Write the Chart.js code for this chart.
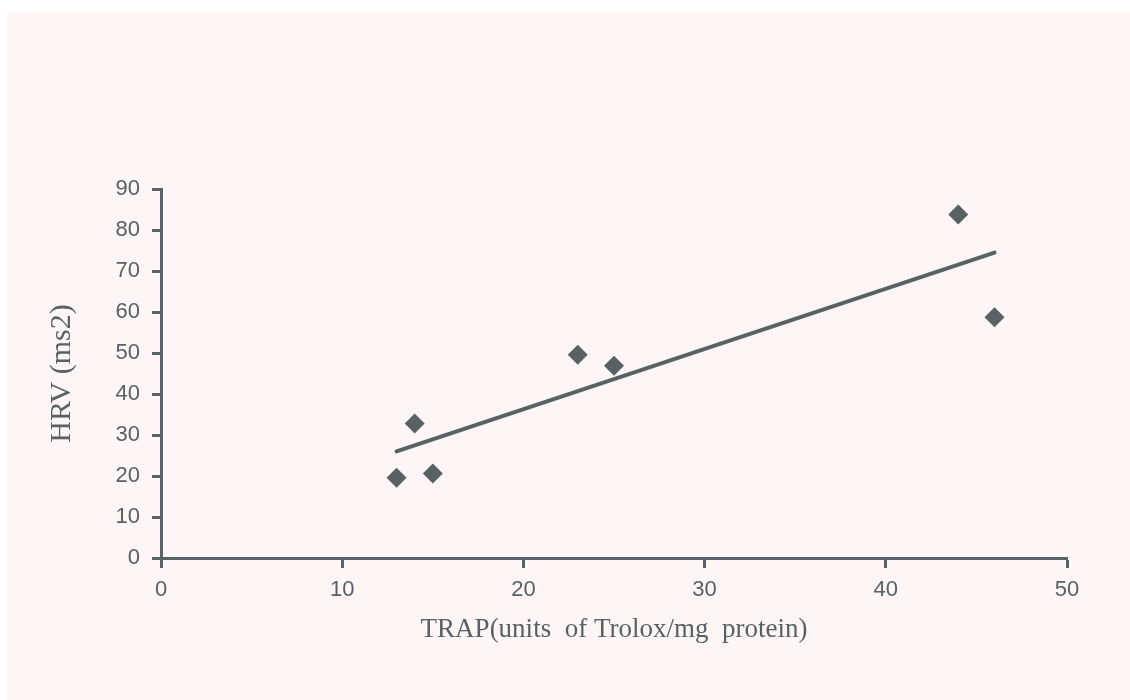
<!DOCTYPE html>
<html>
<head>
<meta charset="utf-8">
<script src="https://cdn.jsdelivr.net/npm/chart.js@4.4.0/dist/chart.umd.min.js"></script>
<style>
  html, body { margin: 0; padding: 0; background: #ffffff; }
  #panel { position: absolute; left: 7px; top: 12px; width: 1123px; height: 688px; background: #fdf5f6; }
  #wrap { position: absolute; left: 0; top: 0; width: 1130px; height: 700px; }
</style>
</head>
<body>
<div id="panel"></div>
<div id="wrap"><canvas id="chart" width="1130" height="700"></canvas></div>
<script>
// points
const trapValues = [13, 14, 15, 23, 25, 44, 46];
const hrvValues = [19.6, 32.8, 20.6, 49.6, 46.9, 83.8, 58.7];
// trend line ends
const trendX = [13, 46];
const trendY = [26, 74.5];

const xTicks = [0, 10, 20, 30, 40, 50];
const yTicks = [0, 10, 20, 30, 40, 50, 60, 70, 80, 90];

const ink = '#586163';

function pairs(xs, ys) {
    return xs.map((x, i) => ({ x: x, y: ys[i] }));
}

function createChart(id, config) {
    try {
        return new Chart(id, config);
    } catch (e) {
        console.log(e);
    }
}

const tickFont = { family: '"Liberation Sans", Arial, sans-serif', size: 22 };
const serif = '"Liberation Serif", "Times New Roman", serif';

let chart = createChart('chart', {
    type: 'scatter',
    data: {
        datasets: [
            {
                label: 'HRV',
                data: pairs(trapValues, hrvValues),
                pointStyle: 'rectRot',
                pointRadius: 10,
                pointHoverRadius: 10,
                backgroundColor: ink,
                borderColor: ink,
                borderWidth: 0
            },
            {
                label: 'trend',
                type: 'line',
                data: pairs(trendX, trendY),
                borderColor: ink,
                borderWidth: 4,
                borderCapStyle: 'round',
                pointRadius: 0,
                fill: false
            }
        ]
    },
    options: {
        responsive: false,
        animation: false,
        layout: { padding: { left: 41, right: 63, top: 189, bottom: 52 } },
        plugins: { legend: { display: false }, tooltip: { enabled: false } },
        scales: {
            x: {
                type: 'linear',
                min: 0, max: 50,
                afterBuildTicks: (scale) => { scale.ticks = xTicks.map(v => ({ value: v })); },
                afterFit: (scale) => { scale.height = 90; },
                border: { display: true, color: ink, width: 3 },
                grid: { drawOnChartArea: false, color: ink, tickColor: ink, tickWidth: 3, tickLength: 10 },
                ticks: { color: ink, font: tickFont, padding: 9 },
                title: {
                    display: true,
                    text: 'TRAP(units  of Trolox/mg  protein)',
                    color: ink,
                    font: { family: serif, size: 27 },
                    padding: { top: 0, bottom: 2 }
                }
            },
            y: {
                type: 'linear',
                min: 0, max: 90,
                afterBuildTicks: (scale) => { scale.ticks = yTicks.map(v => ({ value: v })); },
                afterFit: (scale) => { scale.width = 120; },
                border: { display: true, color: ink, width: 3 },
                grid: { drawOnChartArea: false, color: ink, tickColor: ink, tickWidth: 3, tickLength: 9 },
                ticks: { color: ink, font: tickFont, padding: 12 },
                title: {
                    display: true,
                    text: 'HRV (ms2)',
                    color: ink,
                    font: { family: serif, size: 30 },
                    padding: { top: 3, bottom: 0 }
                }
            }
        }
    }
});
</script>
</body>
</html>
